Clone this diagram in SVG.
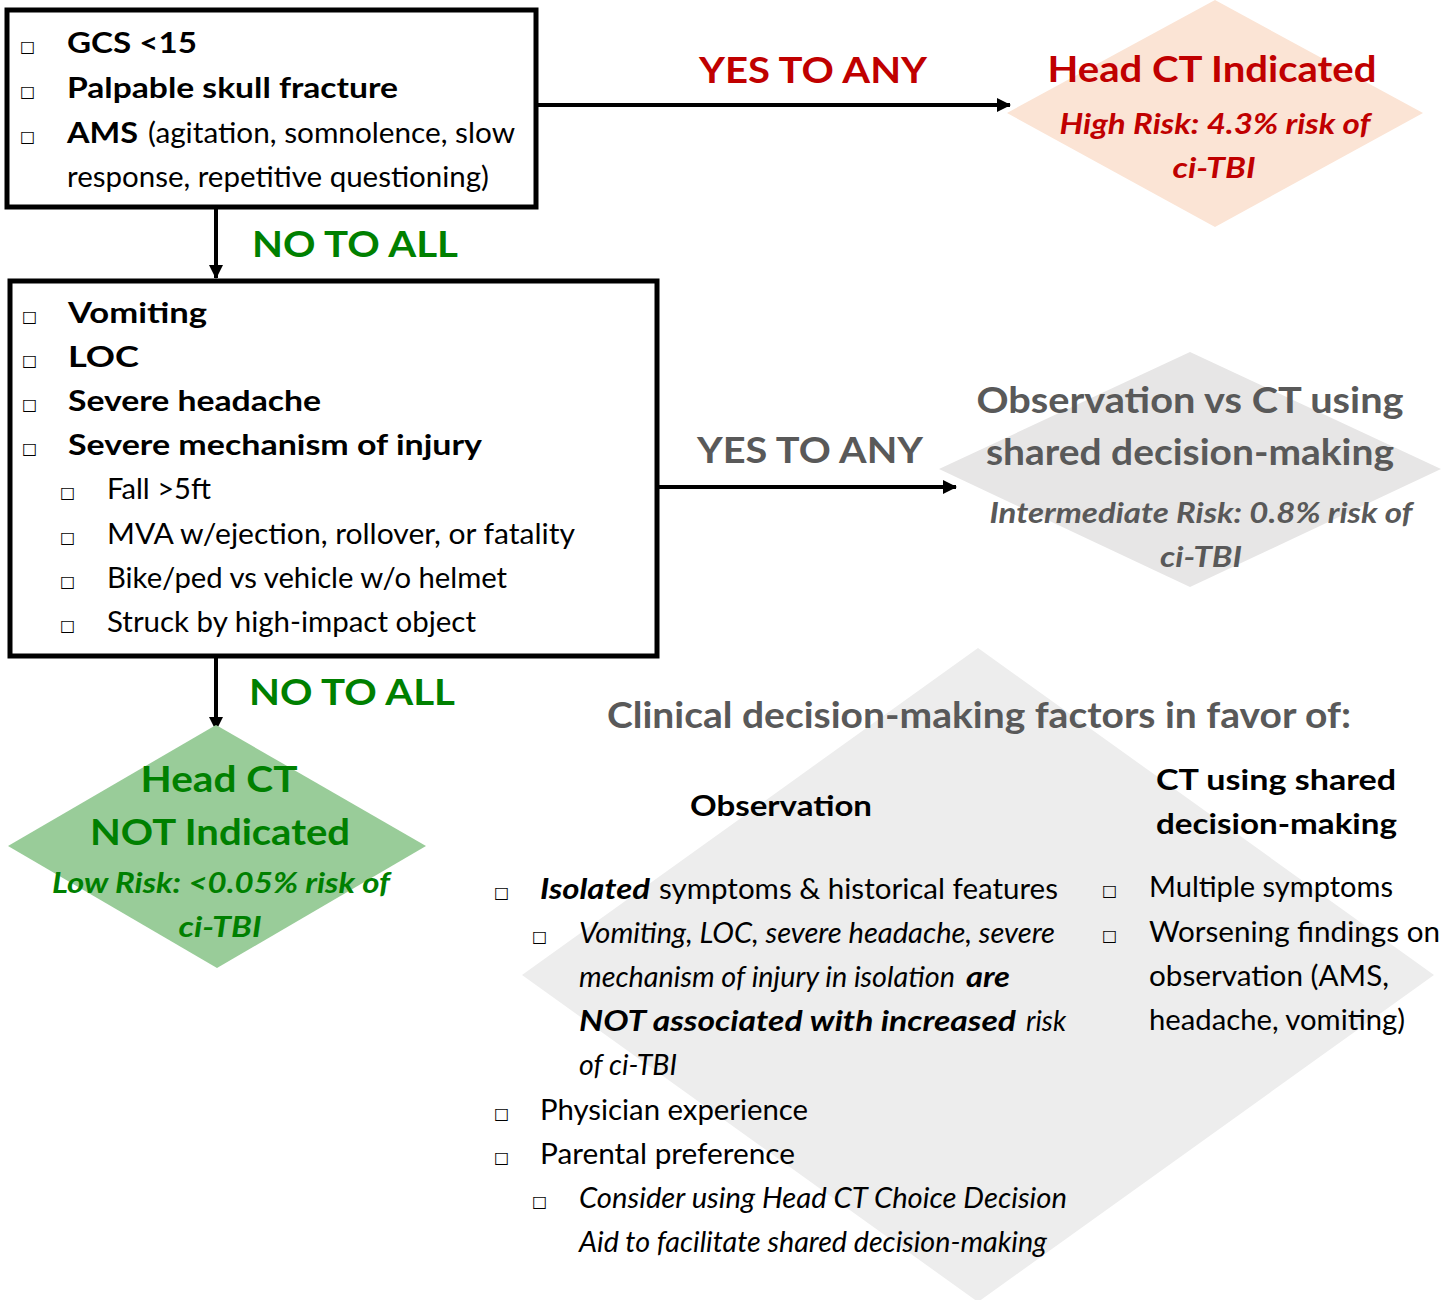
<svg xmlns="http://www.w3.org/2000/svg" width="1448" height="1300" viewBox="0 0 1448 1300">
<defs>
<marker id="arr" markerUnits="userSpaceOnUse" markerWidth="14" markerHeight="14" refX="13" refY="7" orient="auto">
<path d="M0,0 L14,7 L0,14 Z" fill="#000"/>
</marker>
<style>
text{font-family:Lato,"Liberation Sans",sans-serif;}
.b{font-weight:bold;}
.i{font-style:italic;}
.body{font-size:29px;fill:#000;}
.blt{font-family:"DejaVu Sans",sans-serif;font-size:16px;fill:#000;}
.box{fill:#fff;stroke:#000;stroke-width:5;}
.lbl{font-size:37px;font-weight:bold;}
.red{fill:#c00000;}
.grn{fill:#008000;}
.gry{fill:#595959;}
.ttl{font-size:36px;font-weight:bold;text-anchor:middle;}
.sub{font-size:29px;font-weight:bold;font-style:italic;text-anchor:middle;}
.conn{stroke:#000;stroke-width:4;fill:none;}
</style>
</defs>
<rect width="1448" height="1300" fill="#fff"/>

<g id="factors">
<polygon points="978,648 1434,975 978,1302 522,975" fill="#ededed"/>
<text x="979" y="728" class="ttl gry" textLength="744" lengthAdjust="spacingAndGlyphs">Clinical decision-making factors in favor of:</text>
<text x="690" y="816" class="body b" font-size="30" textLength="182" lengthAdjust="spacingAndGlyphs">Observation</text>
<text x="1156" y="790" class="body b" font-size="30" textLength="240" lengthAdjust="spacingAndGlyphs">CT using shared</text>
<text x="1156" y="834" class="body b" font-size="30" textLength="241" lengthAdjust="spacingAndGlyphs">decision-making</text>
<text x="494" y="898" class="blt">□</text>
<text x="540" y="899" class="body b i" textLength="110" lengthAdjust="spacingAndGlyphs">Isolated</text>
<text x="659" y="899" class="body" textLength="399" lengthAdjust="spacingAndGlyphs">symptoms &amp; historical features</text>
<text x="532" y="942" class="blt">□</text>
<text x="579" y="943" class="body i" textLength="476" lengthAdjust="spacingAndGlyphs">Vomiting, LOC, severe headache, severe</text>
<text x="579" y="987" class="body i" textLength="376" lengthAdjust="spacingAndGlyphs">mechanism of injury in isolation</text>
<text x="966" y="987" class="body b i" textLength="44" lengthAdjust="spacingAndGlyphs">are</text>
<text x="579" y="1031" class="body b i" textLength="437" lengthAdjust="spacingAndGlyphs">NOT associated with increased</text>
<text x="1026" y="1031" class="body i" textLength="40" lengthAdjust="spacingAndGlyphs">risk</text>
<text x="579" y="1075" class="body i" textLength="98" lengthAdjust="spacingAndGlyphs">of ci-TBI</text>
<text x="494" y="1119" class="blt">□</text>
<text x="540" y="1120" class="body" textLength="268" lengthAdjust="spacingAndGlyphs">Physician experience</text>
<text x="494" y="1163" class="blt">□</text>
<text x="540" y="1164" class="body" textLength="255" lengthAdjust="spacingAndGlyphs">Parental preference</text>
<text x="532" y="1207" class="blt">□</text>
<text x="579" y="1208" class="body i" textLength="488" lengthAdjust="spacingAndGlyphs">Consider using Head CT Choice Decision</text>
<text x="579" y="1252" class="body i" textLength="468" lengthAdjust="spacingAndGlyphs">Aid to facilitate shared decision-making</text>
<text x="1102" y="896" class="blt">□</text>
<text x="1149" y="897" class="body" textLength="244" lengthAdjust="spacingAndGlyphs">Multiple symptoms</text>
<text x="1102" y="941" class="blt">□</text>
<text x="1149" y="942" class="body" textLength="291" lengthAdjust="spacingAndGlyphs">Worsening findings on</text>
<text x="1149" y="986" class="body" textLength="240" lengthAdjust="spacingAndGlyphs">observation (AMS,</text>
<text x="1149" y="1030" class="body" textLength="256" lengthAdjust="spacingAndGlyphs">headache, vomiting)</text>
</g>

<g id="connectors">
<line x1="538" y1="105" x2="1010" y2="105" class="conn" marker-end="url(#arr)"/>
<line x1="216" y1="209" x2="216" y2="278" class="conn" marker-end="url(#arr)"/>
<line x1="659" y1="487" x2="956" y2="487" class="conn" marker-end="url(#arr)"/>
<line x1="216" y1="658" x2="216" y2="730" class="conn" marker-end="url(#arr)"/>
<text x="699" y="83" class="lbl red" textLength="228" lengthAdjust="spacingAndGlyphs">YES TO ANY</text>
<text x="252" y="257" class="lbl grn" textLength="206" lengthAdjust="spacingAndGlyphs">NO TO ALL</text>
<text x="697" y="463" class="lbl gry" textLength="226" lengthAdjust="spacingAndGlyphs">YES TO ANY</text>
<text x="249" y="705" class="lbl grn" textLength="206" lengthAdjust="spacingAndGlyphs">NO TO ALL</text>
</g>

<g id="high-risk-criteria">
<rect x="7" y="10" width="529" height="197" class="box"/>
<text x="20" y="52" class="blt">□</text>
<text x="67" y="53" class="body b" textLength="130" lengthAdjust="spacingAndGlyphs">GCS &lt;15</text>
<text x="20" y="97" class="blt">□</text>
<text x="67" y="98" class="body b" textLength="331" lengthAdjust="spacingAndGlyphs">Palpable skull fracture</text>
<text x="20" y="142" class="blt">□</text>
<text x="67" y="143" class="body b" textLength="71" lengthAdjust="spacingAndGlyphs">AMS</text>
<text x="148" y="143" class="body" textLength="367" lengthAdjust="spacingAndGlyphs">(agitation, somnolence, slow</text>
<text x="67" y="187" class="body" textLength="422" lengthAdjust="spacingAndGlyphs">response, repetitive questioning)</text>
</g>

<g id="intermediate-criteria">
<rect x="10" y="281" width="647" height="375" class="box"/>
<text x="22" y="322" class="blt">□</text>
<text x="68" y="323" class="body b" textLength="139" lengthAdjust="spacingAndGlyphs">Vomiting</text>
<text x="22" y="366" class="blt">□</text>
<text x="68" y="367" class="body b" textLength="71" lengthAdjust="spacingAndGlyphs">LOC</text>
<text x="22" y="410" class="blt">□</text>
<text x="68" y="411" class="body b" textLength="253" lengthAdjust="spacingAndGlyphs">Severe headache</text>
<text x="22" y="454" class="blt">□</text>
<text x="68" y="455" class="body b" textLength="414" lengthAdjust="spacingAndGlyphs">Severe mechanism of injury</text>
<text x="60" y="498" class="blt">□</text>
<text x="107" y="499" class="body" textLength="104" lengthAdjust="spacingAndGlyphs">Fall &gt;5ft</text>
<text x="60" y="543" class="blt">□</text>
<text x="107" y="544" class="body" textLength="468" lengthAdjust="spacingAndGlyphs">MVA w/ejection, rollover, or fatality</text>
<text x="60" y="587" class="blt">□</text>
<text x="107" y="588" class="body" textLength="400" lengthAdjust="spacingAndGlyphs">Bike/ped vs vehicle w/o helmet</text>
<text x="60" y="631" class="blt">□</text>
<text x="107" y="632" class="body" textLength="369" lengthAdjust="spacingAndGlyphs">Struck by high-impact object</text>
</g>

<g id="ct-indicated">
<polygon points="1215,0 1423,113 1215,227 1007,113" fill="#fbe4d5"/>
<text x="1212" y="82" class="ttl red" textLength="329" lengthAdjust="spacingAndGlyphs">Head CT Indicated</text>
<text x="1215" y="134" class="sub red" textLength="311" lengthAdjust="spacingAndGlyphs">High Risk: 4.3% risk of</text>
<text x="1214" y="178" class="sub red" textLength="83" lengthAdjust="spacingAndGlyphs">ci-TBI</text>
</g>

<g id="shared-decision">
<polygon points="1190,352 1441,469 1190,587 939,469" fill="#e7e6e6"/>
<text x="1190" y="413" class="ttl gry" textLength="427" lengthAdjust="spacingAndGlyphs">Observation vs CT using</text>
<text x="1190" y="465" class="ttl gry" textLength="408" lengthAdjust="spacingAndGlyphs">shared decision-making</text>
<text x="1201" y="523" class="sub gry" textLength="423" lengthAdjust="spacingAndGlyphs">Intermediate Risk: 0.8% risk of</text>
<text x="1201" y="567" class="sub gry" textLength="82" lengthAdjust="spacingAndGlyphs">ci-TBI</text>
</g>

<g id="ct-not-indicated">
<polygon points="216,725 426,846 217,968 8,846" fill="#99cc99"/>
<text x="219" y="792" class="ttl grn" textLength="157" lengthAdjust="spacingAndGlyphs">Head CT</text>
<text x="220" y="845" class="ttl grn" textLength="260" lengthAdjust="spacingAndGlyphs">NOT Indicated</text>
<text x="221" y="893" class="sub grn" textLength="338" lengthAdjust="spacingAndGlyphs">Low Risk: &lt;0.05% risk of</text>
<text x="220" y="937" class="sub grn" textLength="83" lengthAdjust="spacingAndGlyphs">ci-TBI</text>
</g>
</svg>
